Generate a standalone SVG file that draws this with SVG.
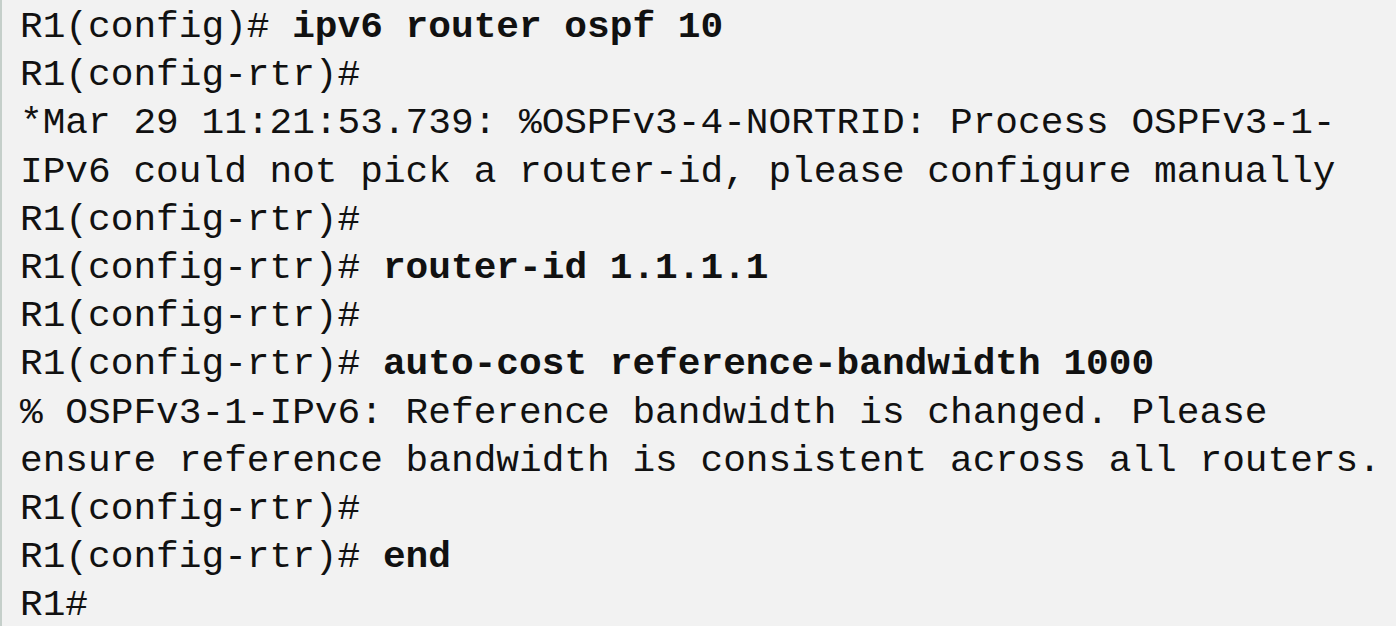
<svg xmlns="http://www.w3.org/2000/svg" width="1396" height="626" viewBox="0 0 1396 626">
<style>
text{font-family:"Liberation Mono","Courier New",monospace;font-size:37.8px;fill:#111;white-space:pre}
.b{font-weight:bold}
</style>
<rect x="0" y="0" width="1396" height="626" fill="#f2f2f2"/>
<rect x="0" y="0" width="2" height="626" fill="#c5cfca"/>
<g id="terminal">
<text x="20" y="37">R1(config)# <tspan class="b">ipv6 router ospf 10</tspan></text>
<text x="20" y="85.2">R1(config-rtr)#</text>
<text x="20" y="133.4">*Mar 29 11:21:53.739: %OSPFv3-4-NORTRID: Process OSPFv3-1-</text>
<text x="20" y="181.6">IPv6 could not pick a router-id, please configure manually</text>
<text x="20" y="229.8">R1(config-rtr)#</text>
<text x="20" y="278">R1(config-rtr)# <tspan class="b">router-id 1.1.1.1</tspan></text>
<text x="20" y="326.2">R1(config-rtr)#</text>
<text x="20" y="374.4">R1(config-rtr)# <tspan class="b">auto-cost reference-bandwidth 1000</tspan></text>
<text x="20" y="422.6">% OSPFv3-1-IPv6: Reference bandwidth is changed. Please</text>
<text x="20" y="470.8">ensure reference bandwidth is consistent across all routers.</text>
<text x="20" y="519">R1(config-rtr)#</text>
<text x="20" y="567.2">R1(config-rtr)# <tspan class="b">end</tspan></text>
<text x="20" y="615.4">R1#</text>
</g>
</svg>
